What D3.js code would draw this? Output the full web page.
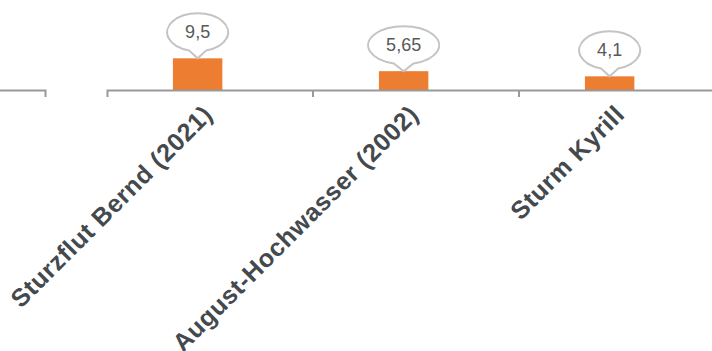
<!DOCTYPE html>
<html>
<head>
<meta charset="utf-8">
<script src="https://cdn.jsdelivr.net/npm/d3@7"></script>
<style>
  html, body { margin: 0; padding: 0; background: #fff; }
  svg { display: block; }
</style>
</head>
<body>
<svg id="chart" width="712" height="351"></svg>
<script>
// Schadensereignisse (Mrd. Euro)
const categories = ["Sturzflut Bernd (2021)", "August-Hochwasser (2002)", "Sturm Kyrill"];
const values = [9.5, 5.65, 4.1];
const valueLabels = ["9,5", "5,65", "4,1"];

const W = 712, H = 351;
const axisY = 90;
const svg = d3.select("#chart");

const x = d3.scaleBand().domain(categories).range([107, 725]).paddingInner(0).paddingOuter(0);
const y = d3.scaleLinear().domain([0, 27]).range([axisY, 0]);
const bw = x.bandwidth();
const barOffset = bw * 0.32, barWidth = bw * 0.24;

// preceding panel: only its axis end is in view
const xPrev = d3.scaleBand().domain(["prev"]).range([-161, 45]);
svg.append("g")
  .attr("transform", `translate(0,${axisY})`)
  .call(d3.axisBottom(xPrev).tickSize(0).tickSizeOuter(7).tickFormat(""))
  .call(g => g.select(".domain").attr("stroke", "#999").attr("stroke-width", 2));

// bars
svg.append("g").selectAll("rect")
  .data(categories)
  .join("rect")
  .attr("x", (d) => x(d) + barOffset)
  .attr("width", barWidth)
  .attr("y", (d, i) => y(values[i]))
  .attr("height", (d, i) => y(0) - y(values[i]))
  .attr("fill", "#ED7D31");

// category axis with tick marks between categories
const axis = svg.append("g").attr("transform", `translate(0,${axisY})`);
axis.call(d3.axisBottom(x).tickSize(0).tickSizeOuter(7).tickFormat(""))
  .call(g => g.select(".domain").attr("stroke", "#999").attr("stroke-width", 2));
axis.selectAll("line.between")
  .data(categories.slice(1))
  .join("line")
  .attr("class", "between")
  .attr("x1", d => x(d)).attr("x2", d => x(d))
  .attr("y1", 0).attr("y2", 7)
  .attr("stroke", "#999").attr("stroke-width", 2);

// rotated category labels
svg.append("g").selectAll("text")
  .data(categories)
  .join("text")
  .attr("transform", d => `translate(${x(d) + bw / 2 + 4},${axisY + 26}) rotate(-45)`)
  .attr("text-anchor", "end")
  .attr("font-family", "'Liberation Sans', Arial, sans-serif")
  .attr("font-weight", "bold")
  .attr("font-size", 25)
  .attr("letter-spacing", 0.6)
  .attr("fill", "#44494d")
  .text(d => d);

// value callouts: ellipse bubbles with a pointer onto the bar top
const callouts = svg.append("g").selectAll("g")
  .data(categories)
  .join("g")
  .attr("transform", (d, i) => `translate(${x(d) + barOffset + barWidth / 2},${y(values[i])})`);

callouts.each(function (d, i) {
  const g = d3.select(this);
  const label = valueLabels[i];
  const t = g.append("text")
    .attr("text-anchor", "middle")
    .attr("font-family", "'Liberation Sans', Arial, sans-serif")
    .attr("font-size", 18)
    .attr("fill", "#595959")
    .text(label);
  const tw = t.node().getComputedTextLength();
  const rx = tw / 2 + 18, ry = 19;
  const cy = -8 - ry + 1;
  // pointer meets the ellipse at angle ±a around the bottom
  const a = 0.28;
  const p1 = [-rx * Math.sin(a), cy + ry * Math.cos(a)];
  const p2 = [rx * Math.sin(a), cy + ry * Math.cos(a)];
  const path = `M${p2[0]},${p2[1]} A${rx},${ry} 0 1 0 ${p1[0]},${p1[1]} L0,0 Z`;
  g.insert("path", "text")
    .attr("d", path)
    .attr("fill", "#fff")
    .attr("stroke", "#c4c4c4")
    .attr("stroke-width", 2);
  t.attr("y", cy + 6);
});
</script>
</body>
</html>
